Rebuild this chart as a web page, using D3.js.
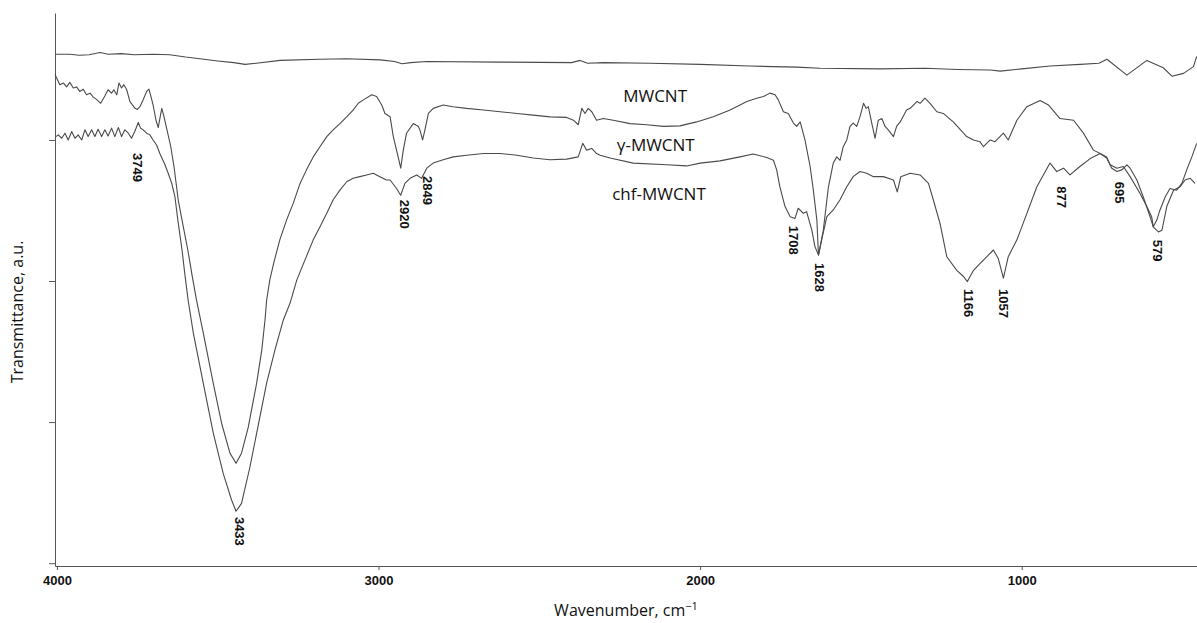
<!DOCTYPE html>
<html>
<head>
<meta charset="utf-8">
<script src="https://cdn.jsdelivr.net/npm/d3@7"></script>
<style>
  body { margin: 0; background: #fff; }
  svg { display: block; }
  .tick text { font-family: "Liberation Sans Narrow", "Liberation Sans", Arial, sans-serif; font-weight: bold; }
</style>
</head>
<body>
<script>
// FTIR spectra, wavenumber (cm-1) vs transmittance (a.u., offset)
var mwcnt = [
  [4006,90.2],[3960,90.2],[3930,90.0],[3900,90.1],[3866,90.5],[3840,90.2],[3800,90.3],[3760,90.1],
  [3700,90.2],[3649,90.1],[3600,89.7],[3555,89.4],[3500,89.0],[3450,88.7],[3415,88.4],[3380,88.6],
  [3306,89.1],[3182,89.3],[3100,89.4],[2995,89.2],[2950,88.9],[2927,88.5],[2900,88.7],[2850,88.9],
  [2622,88.8],[2400,88.7],[2373,89.1],[2350,88.6],[2300,88.7],[2156,88.6],[2000,88.4],[1845,88.1],
  [1700,87.9],[1627,87.7],[1440,87.6],[1300,87.7],[1200,87.5],[1098,87.4],[1067,87.2],[1000,87.6],
  [912,88.1],[818,88.4],[760,88.6],[735,89.3],[673,86.5],[611,89.1],[560,87.8],[533,86.3],
  [497,86.8],[466,88.0],[456,89.8]
];

var gMwcnt = [
  [4006,86.6],[3991,84.8],[3980,85.1],[3970,84.4],[3960,85.2],[3949,84.2],[3939,84.4],[3929,83.6],
  [3918,84.0],[3908,83.0],[3897,83.3],[3887,82.6],[3877,82.2],[3864,81.5],[3851,82.8],[3841,83.9],
  [3830,83.3],[3823,83.9],[3814,83.0],[3807,85.1],[3799,84.2],[3792,84.8],[3783,83.9],[3773,81.8],
  [3757,80.6],[3750,80.4],[3742,80.9],[3732,82.1],[3721,83.6],[3714,84.0],[3709,83.0],[3701,81.2],
  [3692,78.5],[3685,77.2],[3678,79.4],[3674,80.6],[3667,79.1],[3659,77.1],[3646,73.8],[3636,70.3],
  [3628,66.7],[3623,64.4],[3608,59.9],[3593,55.5],[3580,51.1],[3566,46.6],[3545,40.8],[3514,31.9],
  [3488,24.8],[3462,19.5],[3443,17.7],[3426,19.5],[3405,24.1],[3379,31.9],[3363,37.8],[3353,43.1],
  [3348,46.6],[3338,50.2],[3325,53.4],[3307,57.3],[3286,60.8],[3265,63.8],[3244,67.3],[3224,69.7],
  [3203,72.0],[3182,73.8],[3161,75.6],[3141,76.8],[3120,77.9],[3099,79.1],[3079,80.3],[3063,81.5],
  [3047,82.1],[3021,83.0],[3006,82.7],[2990,81.2],[2980,79.7],[2964,79.1],[2954,75.6],[2939,72.0],
  [2931,70.0],[2923,73.2],[2913,76.2],[2892,77.9],[2876,77.4],[2871,76.7],[2863,75.0],[2856,76.7],
  [2845,79.7],[2830,80.6],[2799,81.2],[2768,80.9],[2726,80.6],[2674,80.3],[2622,80.0],[2570,79.7],
  [2519,79.4],[2467,79.1],[2415,79.0],[2394,78.5],[2379,77.7],[2368,80.6],[2358,79.7],[2348,80.6],
  [2337,80.0],[2322,78.5],[2301,78.8],[2270,78.5],[2218,77.9],[2166,77.7],[2114,77.4],[2063,77.5],
  [2011,78.2],[1959,79.1],[1907,80.3],[1876,81.2],[1855,81.8],[1824,82.4],[1803,82.7],[1783,83.3],
  [1767,83.0],[1757,82.1],[1741,80.0],[1726,79.7],[1710,78.0],[1700,77.4],[1689,78.2],[1674,75.0],
  [1658,70.3],[1648,66.1],[1637,60.8],[1632,54.6],[1617,59.0],[1601,66.7],[1586,70.9],[1575,72.0],
  [1565,71.4],[1555,73.8],[1544,75.0],[1534,77.4],[1524,78.0],[1513,77.4],[1503,79.1],[1492,81.5],
  [1484,80.6],[1477,80.9],[1466,77.9],[1456,75.3],[1446,78.5],[1435,78.8],[1425,77.4],[1415,76.8],
  [1399,75.6],[1389,77.4],[1378,78.2],[1358,80.3],[1347,80.6],[1326,81.8],[1316,81.5],[1301,82.4],
  [1285,81.5],[1264,80.0],[1244,79.7],[1213,78.2],[1171,75.6],[1150,75.0],[1130,74.7],[1119,73.8],
  [1098,75.0],[1083,74.7],[1057,76.2],[1042,75.0],[1015,78.5],[984,80.9],[943,82.0],[917,81.2],
  [881,78.8],[839,78.5],[808,76.2],[777,73.2],[756,72.6],[736,72.0],[725,70.6],[704,70.0],
  [684,70.3],[663,68.5],[632,65.5],[611,63.2],[596,61.4],[591,59.6],[580,60.8],[570,62.6],
  [554,64.9],[539,66.4],[518,66.1],[502,67.3],[487,69.7],[471,72.0],[456,74.4]
];

var chfMwcnt = [
  [4003,75.6],[3996,75.9],[3985,75.3],[3975,76.2],[3965,75.0],[3954,76.5],[3944,75.3],[3934,75.9],
  [3923,75.0],[3913,76.8],[3903,75.6],[3892,76.8],[3882,75.6],[3872,76.9],[3861,75.6],[3851,76.8],
  [3841,75.7],[3830,77.1],[3820,75.6],[3809,77.2],[3799,75.6],[3789,76.8],[3778,76.2],[3768,75.3],
  [3758,76.5],[3747,78.1],[3740,77.1],[3732,76.8],[3721,76.2],[3711,75.9],[3701,75.0],[3690,74.1],
  [3680,72.6],[3664,70.6],[3654,69.1],[3643,67.3],[3633,64.9],[3624,60.8],[3611,55.5],[3602,51.1],
  [3592,46.6],[3576,40.8],[3545,31.9],[3514,23.1],[3483,15.9],[3457,11.2],[3443,9.2],[3426,10.6],
  [3400,17.0],[3369,25.9],[3348,31.9],[3322,37.8],[3296,43.1],[3275,46.1],[3254,50.2],[3229,53.7],
  [3203,57.3],[3182,59.6],[3161,62.0],[3141,64.4],[3120,66.1],[3099,67.6],[3079,68.2],[3058,68.5],
  [3037,68.8],[3016,69.1],[2996,68.5],[2975,67.9],[2964,67.9],[2944,66.4],[2931,65.2],[2918,67.3],
  [2902,68.2],[2881,68.8],[2866,68.2],[2850,70.0],[2830,70.9],[2799,71.5],[2768,72.0],[2726,72.3],
  [2674,72.6],[2622,72.6],[2570,72.3],[2519,71.8],[2467,71.5],[2415,71.6],[2379,72.0],[2365,74.4],
  [2353,73.2],[2337,73.5],[2322,72.6],[2311,72.3],[2280,71.8],[2208,70.9],[2104,70.6],[2042,70.4],
  [2000,70.9],[1938,71.3],[1876,72.0],[1835,72.5],[1793,71.9],[1772,71.4],[1762,69.7],[1752,66.7],
  [1736,63.2],[1720,61.4],[1705,61.1],[1695,62.9],[1679,62.0],[1669,62.3],[1653,59.1],[1643,56.1],
  [1632,54.6],[1622,57.3],[1606,61.4],[1586,62.6],[1565,64.4],[1544,66.7],[1524,68.5],[1503,69.4],
  [1482,69.1],[1461,68.5],[1430,68.5],[1399,67.9],[1387,65.8],[1376,68.5],[1347,69.1],[1316,68.8],
  [1290,67.3],[1275,64.4],[1254,60.2],[1233,54.3],[1202,51.9],[1181,50.8],[1169,49.9],[1150,51.9],
  [1130,53.1],[1109,54.3],[1088,55.5],[1073,54.0],[1057,50.5],[1042,54.3],[1015,57.3],[984,62.0],
  [953,66.7],[912,70.9],[891,69.4],[870,70.0],[850,68.8],[819,70.3],[787,71.7],[756,72.6],
  [736,71.8],[720,70.0],[704,69.4],[689,69.7],[673,70.6],[663,70.0],[642,67.9],[622,64.9],
  [601,61.4],[591,59.6],[575,58.7],[564,59.0],[549,63.2],[528,66.1],[508,66.7],[492,67.9],
  [476,68.2],[461,67.3]
];

var seriesNames = ["MWCNT", "\u03b3-MWCNT", "chf-MWCNT"];
var seriesNameAt = [[2140, 81.7], [2138, 73.0], [2128, 64.4]];

var peaks = [3749, 3433, 2920, 2849, 1708, 1628, 1166, 1057, 877, 695, 579];
var peakLabelAt = [72.7, 8.2, 64.4, 68.6, 59.8, 53.2, 48.6, 48.6, 66.8, 67.6, 57.3];

var xTicks = [4000, 3000, 2000, 1000];
var yTicks = [0, 25, 50, 75];

var width = 1197, height = 623;
var margin = {left: 55, right: 0, top: 13, bottom: 57};

var svg = d3.select("body").append("svg")
    .attr("width", width)
    .attr("height", height);

var x = d3.scaleLinear().domain([4006, 455]).range([margin.left, width - margin.right]);
var y = d3.scaleLinear().domain([-0.5, 97.5]).range([height - margin.bottom, margin.top]);

var axisColor = "#555";

// x axis
var gx = svg.append("g")
    .attr("transform", "translate(0," + (height - margin.bottom) + ")")
    .call(d3.axisBottom(x).tickValues(xTicks).tickFormat(d3.format("d"))
      .tickSize(4).tickSizeOuter(0).tickPadding(6));
gx.select(".domain").attr("stroke", axisColor);
gx.selectAll(".tick line").attr("stroke", axisColor);
gx.selectAll(".tick text").attr("font-size", 13).attr("fill", "#111");

// y axis, no labels
var gy = svg.append("g")
    .attr("transform", "translate(" + margin.left + ",0)")
    .call(d3.axisLeft(y).tickValues(yTicks).tickSize(6).tickSizeOuter(0).tickFormat(""));
gy.select(".domain").attr("stroke", axisColor);
gy.selectAll(".tick line").attr("stroke", axisColor);

var line = d3.line()
    .x(function(d) { return x(d[0]); })
    .y(function(d) { return y(d[1]); });

[mwcnt, gMwcnt, chfMwcnt].forEach(function(s) {
  svg.append("path")
    .datum(s)
    .attr("d", line)
    .attr("fill", "none")
    .attr("stroke", "#4a4a4a")
    .attr("stroke-width", 1.1)
    .attr("stroke-linejoin", "round");
});

// series names
svg.selectAll(".sname")
  .data(seriesNames)
  .enter().append("text")
    .attr("class", "sname")
    .attr("x", function(d, i) { return x(seriesNameAt[i][0]); })
    .attr("y", function(d, i) { return y(seriesNameAt[i][1]); })
    .attr("text-anchor", "middle")
    .attr("font-family", "'Open Sans', 'Noto Sans', sans-serif")
    .attr("font-size", 17)
    .attr("fill", "#111")
    .text(function(d) { return d; });

// peak labels, rotated
svg.selectAll(".peak")
  .data(peaks)
  .enter().append("text")
    .attr("class", "peak")
    .attr("transform", function(d, i) {
      return "translate(" + x(d) + "," + y(peakLabelAt[i]) + ") rotate(90)";
    })
    .attr("dy", "0.35em")
    .attr("font-family", "'Liberation Sans', Arial, sans-serif")
    .attr("font-weight", "bold")
    .attr("font-size", 13)
    .attr("fill", "#111")
    .text(function(d) { return d; });

// axis titles
svg.append("text")
    .attr("x", (margin.left + width) / 2)
    .attr("y", 616)
    .attr("text-anchor", "middle")
    .attr("font-family", "'Open Sans', 'Noto Sans', sans-serif")
    .attr("font-size", 16)
    .attr("fill", "#111")
    .html("Wavenumber, cm<tspan dy='-6' font-size='11'>\u22121</tspan>");

svg.append("text")
    .attr("transform", "translate(23,312) rotate(-90)")
    .attr("text-anchor", "middle")
    .attr("font-family", "'Open Sans', 'Noto Sans', sans-serif")
    .attr("font-size", 16)
    .attr("fill", "#111")
    .text("Transmittance, a.u.");
</script>
</body>
</html>
